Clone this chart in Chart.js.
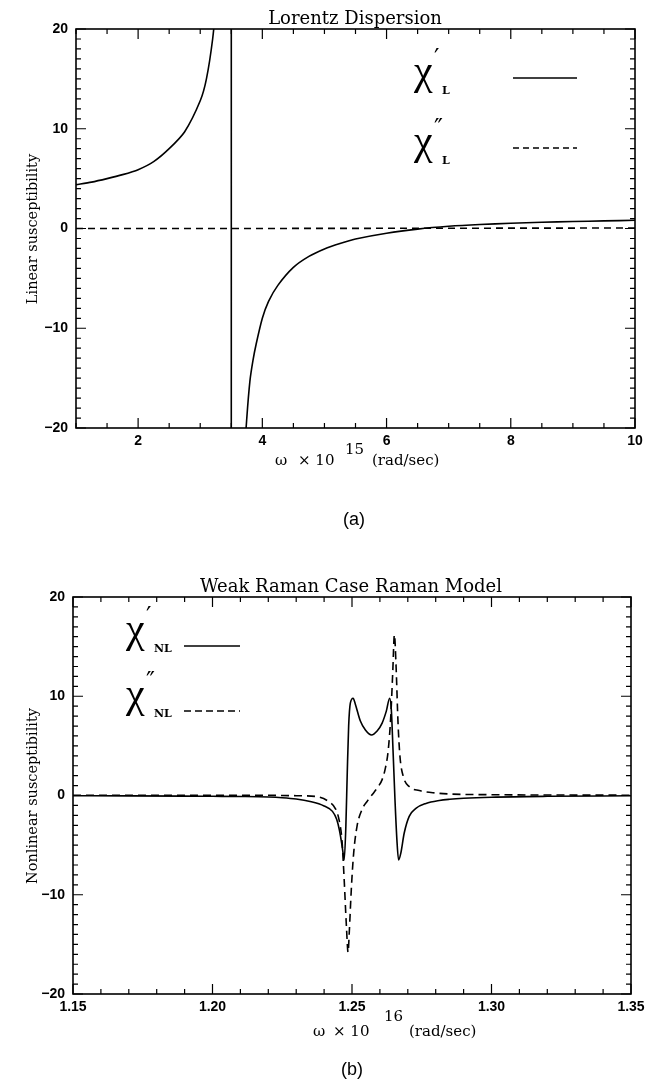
<!DOCTYPE html>
<html>
<head>
<meta charset="utf-8">
<script src="https://cdn.jsdelivr.net/npm/chart.js@4.4.1/dist/chart.umd.min.js"></script>
<style>
  body { margin: 0; background: #fff; width: 661px; height: 1086px; position: relative; overflow: hidden; }
  canvas { position: absolute; left: 0; }
  .cap { position: absolute; transform: translateX(-50%); font: 18px "Liberation Sans", Arial, sans-serif; color: #000; }
</style>
</head>
<body>
<canvas id="chartA" width="661" height="540" style="top:0"></canvas>
<canvas id="chartB" width="661" height="515" style="top:545px"></canvas>
<div class="cap" style="left:354px;top:509px">(a)</div>
<div class="cap" style="left:352px;top:1059px">(b)</div>
<script>
// (a) Lorentz dispersion, omega in units of 1e15 rad/s
const omegaA = [1.0, 1.25, 1.5, 1.75, 2.0, 2.25, 2.5, 2.75, 3.0, 3.1, 3.2, 3.25, 3.3, 3.4, 3.5, 3.5, 3.6, 3.7, 3.75, 3.8,
  3.85, 3.9, 4.0, 4.1, 4.25, 4.5, 4.75, 5.0, 5.25, 5.5, 6.0, 6.5, 7.0, 7.5, 8.0, 8.5, 9.0, 9.5, 10.0];
const chiRealA = [4.4, 4.65, 5.0, 5.4, 5.9, 6.7, 8.0, 9.7, 12.8, 15.0, 19.0, 22.5, 28, 54, 80, -80, -50, -24, -19.0, -15.3,
  -13.2, -11.6, -9.0, -7.3, -5.7, -3.9, -2.8, -2.05, -1.5, -1.05, -0.47, -0.06, 0.22, 0.4, 0.52, 0.62, 0.7, 0.76, 0.82];
const omegaImagA = [1.0, 3.5, 10.0];
const chiImagA = [0.0, 0.0, 0.05];

// (b) weak Raman case, omega in units of 1e16 rad/s
const omegaRealB = [1.150, 1.170, 1.190, 1.200, 1.210, 1.220, 1.2250, 1.2300, 1.2350, 1.2400, 1.2430, 1.2445, 1.2455,
  1.2464, 1.2469, 1.2472, 1.2478, 1.2483, 1.2488, 1.2494, 1.2504, 1.2512, 1.2530, 1.2548, 1.2570, 1.2590, 1.2608,
  1.2623, 1.2635, 1.2641, 1.2647, 1.2654, 1.2661, 1.2667, 1.2675, 1.2687, 1.2705, 1.2729, 1.2765, 1.2813, 1.2850,
  1.2900, 1.3000, 1.3200, 1.3500];
const chiRealB = [-0.03, -0.04, -0.06, -0.08, -0.1, -0.15, -0.22, -0.35, -0.6, -1.05, -1.6, -2.4, -3.5,
  -5.0, -6.0, -6.5, -3.1, 2.3, 7.0, 9.3, 9.8, 9.2, 7.5, 6.6, 6.1, 6.5, 7.3,
  8.5, 9.8, 8.6, 4.6, -0.4, -4.5, -6.5, -5.8, -3.8, -2.1, -1.3, -0.8, -0.5, -0.38,
  -0.28, -0.17, -0.08, -0.03];
const omegaImagB = [1.150, 1.180, 1.200, 1.220, 1.2300, 1.2370, 1.2416, 1.2442, 1.2454, 1.2464, 1.2472, 1.2480, 1.2486,
  1.2490, 1.2498, 1.2506, 1.2518, 1.2536, 1.2554, 1.2572, 1.2590, 1.2608, 1.2620, 1.2630, 1.2639, 1.2646, 1.2652,
  1.2658, 1.2665, 1.2672, 1.2684, 1.2705, 1.2741, 1.2801, 1.2850, 1.3000, 1.3200, 1.3500];
const chiImagB = [0.02, 0.03, 0.03, 0.02, -0.02, -0.1, -0.6, -1.4, -2.5, -4.5, -8.5, -13.2, -15.8,
  -13.9, -9.2, -5.8, -3.1, -1.4, -0.6, 0.07, 0.74, 1.6, 2.8, 4.6, 8.0, 12.4, 16.2,
  13.0, 7.3, 3.9, 1.9, 0.9, 0.5, 0.25, 0.15, 0.08, 0.05, 0.03];

// ticks
const xTicksA = [2, 4, 6, 8, 10];
const xTickLabelsA = ['2', '4', '6', '8', '10'];
const xTicksB = [1.15, 1.20, 1.25, 1.30, 1.35];
const xTickLabelsB = ['1.15', '1.20', '1.25', '1.30', '1.35'];
const yTicks = [-20, -10, 0, 10, 20];
const yTickLabels = ['\u221220', '\u221210', '0', '10', '20'];

const pts = (xs, ys) => xs.map((x, i) => ({ x: x, y: ys[i] }));

const serif = '"DejaVu Serif", "Liberation Serif", serif';

// box, inward major/minor ticks, titles and the hand drawn legend
const idlPlot = {
  id: 'idlPlot',
  afterDatasetsDraw(chart, args, o) {
    const ctx = chart.ctx, a = chart.chartArea;
    const xs = chart.scales.x, ys = chart.scales.y;
    const steps = (min, max, st) => {
      let out = [], n = Math.round((max - min) / st);
      for (let i = 0; i <= n; i++) out.push(min + i * st);
      return out;
    };
    const isMajor = (v, m) => Math.abs(v / m - Math.round(v / m)) < 1e-6;
    ctx.save();
    ctx.strokeStyle = '#000';
    ctx.lineWidth = 1.2;
    ctx.beginPath();
    for (const v of steps(xs.min, xs.max, o.xMinor)) {
      let len = isMajor(v, o.xMajor) ? 10 : 5;
      let p = xs.getPixelForValue(v);
      ctx.moveTo(p, a.bottom); ctx.lineTo(p, a.bottom - len);
      ctx.moveTo(p, a.top); ctx.lineTo(p, a.top + len);
    }
    for (const v of steps(ys.min, ys.max, o.yMinor)) {
      let len = isMajor(v, o.yMajor) ? 10 : 5;
      let p = ys.getPixelForValue(v);
      ctx.moveTo(a.left, p); ctx.lineTo(a.left + len, p);
      ctx.moveTo(a.right, p); ctx.lineTo(a.right - len, p);
    }
    ctx.stroke();
    ctx.lineWidth = 1.6;
    ctx.strokeRect(a.left, a.top, a.right - a.left, a.bottom - a.top);

    ctx.fillStyle = '#000';
    ctx.textBaseline = 'alphabetic';
    // title
    ctx.font = o.titleFont;
    ctx.textAlign = 'center';
    ctx.fillText(o.title, o.titleX, o.titleY);
    // x axis title with superscript exponent
    ctx.textAlign = 'left';
    ctx.font = '15px ' + serif;
    ctx.fillText('\u03c9', o.xt[0], o.xtY);
    ctx.fillText('\u00d7 10', o.xt[1], o.xtY);
    ctx.fillText(o.exp, o.xt[2], o.xtY - o.expUp);
    ctx.fillText('(rad/sec)', o.xt[3], o.xtY);
    // y axis title
    ctx.save();
    ctx.translate(o.ytX, o.ytY);
    ctx.rotate(-Math.PI / 2);
    ctx.textAlign = 'center';
    ctx.font = '14.5px ' + serif;
    ctx.fillText(o.yTitle, 0, 0);
    ctx.restore();
    // legend
    for (const e of o.legend) {
      ctx.font = '42px "Liberation Serif", serif';
      ctx.textAlign = 'left';
      ctx.fillText('\u03c7', e.x, e.y);
      ctx.font = '24px ' + serif;
      ctx.fillText(e.mark, e.x + 20, e.y - 18);
      ctx.font = 'bold 11px ' + serif;
      ctx.fillText(e.sub, e.x + 28, e.y + 10);
      ctx.lineWidth = 1.6;
      ctx.setLineDash(e.dash);
      ctx.beginPath();
      ctx.moveTo(e.l1, e.ly); ctx.lineTo(e.l2, e.ly);
      ctx.stroke();
      ctx.setLineDash([]);
    }
    ctx.restore();
  }
};

function makeChart(id, sets, xmin, xmax, xTicks, xLabels, box, plotOpts) {
  return new Chart(document.getElementById(id), {
    type: 'line',
    data: { datasets: sets },
    options: {
      responsive: false,
      animation: false,
      devicePixelRatio: 1,
      layout: { padding: { top: box.top, right: box.right, left: 0, bottom: 0 } },
      elements: { point: { radius: 0 }, line: { capBezierPoints: false } },
      plugins: { legend: { display: false }, tooltip: { enabled: false }, title: { display: false }, idlPlot: plotOpts },
      scales: {
        x: {
          type: 'linear', min: xmin, max: xmax,
          grid: { display: false, drawTicks: false },
          border: { display: false },
          afterBuildTicks: s => { s.ticks = xTicks.map(v => ({ value: v })); },
          afterFit: s => { s.height = box.xh; },
          ticks: {
            autoSkip: false, maxRotation: 0, padding: 5, color: '#000',
            font: { family: '"Liberation Sans", Arial, sans-serif', size: 14, weight: 'bold' },
            callback: (v, i) => xLabels[i]
          }
        },
        y: {
          min: -20, max: 20,
          grid: { display: false, drawTicks: false },
          border: { display: false },
          afterBuildTicks: s => { s.ticks = yTicks.map(v => ({ value: v })); },
          afterFit: s => { s.width = box.left; },
          ticks: {
            padding: 8, color: '#000',
            font: { family: '"Liberation Sans", Arial, sans-serif', size: 14, weight: 'bold' },
            callback: (v, i) => yTickLabels[i]
          }
        }
      }
    },
    plugins: [idlPlot]
  });
}

makeChart('chartA', [
  { data: pts(omegaA, chiRealA), borderColor: '#000', borderWidth: 1.6, tension: 0.25, fill: false },
  { data: pts(omegaImagA, chiImagA), borderColor: '#000', borderWidth: 1.6, borderDash: [7, 5], tension: 0, fill: false }
], 1, 10, xTicksA, xTickLabelsA,
  { top: 29, right: 26, left: 76, xh: 112 },
  {
    xMinor: 0.5, xMajor: 2, yMinor: 1, yMajor: 10,
    title: 'Lorentz Dispersion', titleFont: '18px ' + serif, titleX: 355, titleY: 24,
    xt: [275, 298, 345, 372], xtY: 465, exp: '15', expUp: 11,
    yTitle: 'Linear susceptibility', ytX: 37, ytY: 229,
    legend: [
      { x: 414, y: 84, mark: '\u2032', sub: 'L', l1: 513, l2: 577, ly: 78, dash: [] },
      { x: 414, y: 154, mark: '\u2033', sub: 'L', l1: 513, l2: 577, ly: 148, dash: [6, 4] }
    ]
  });

makeChart('chartB', [
  { data: pts(omegaRealB, chiRealB), borderColor: '#000', borderWidth: 1.6, cubicInterpolationMode: 'monotone', fill: false },
  { data: pts(omegaImagB, chiImagB), borderColor: '#000', borderWidth: 1.6, borderDash: [8, 5], cubicInterpolationMode: 'monotone', fill: false }
], 1.15, 1.35, xTicksB, xTickLabelsB,
  { top: 52, right: 30, left: 73, xh: 66 },
  {
    xMinor: 0.01, xMajor: 0.05, yMinor: 1, yMajor: 10,
    title: 'Weak Raman Case Raman Model', titleFont: '18px ' + serif, titleX: 351, titleY: 47,
    xt: [313, 333, 384, 409], xtY: 491, exp: '16', expUp: 15,
    yTitle: 'Nonlinear susceptibility', ytX: 37, ytY: 251,
    legend: [
      { x: 126, y: 97, mark: '\u2032', sub: 'NL', l1: 184, l2: 240, ly: 101, dash: [] },
      { x: 126, y: 162, mark: '\u2033', sub: 'NL', l1: 184, l2: 240, ly: 166, dash: [7, 4] }
    ]
  });
</script>
</body>
</html>
